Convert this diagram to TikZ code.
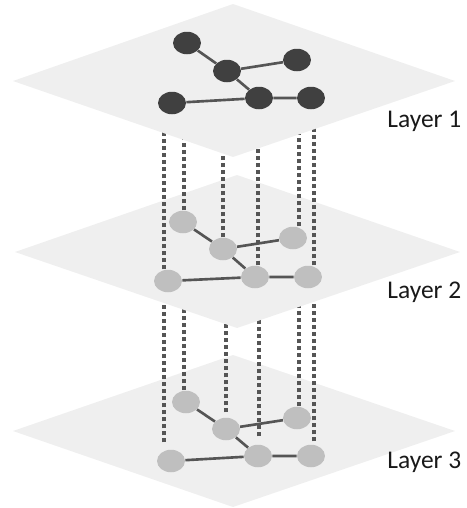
\documentclass[tikz,border=0pt]{standalone}
\usepackage{fontspec}
\setmainfont{Carlito}
\usetikzlibrary{calc, shapes.geometric}
\usepackage{xcolor}
\definecolor{sheetgray}{HTML}{EFEFEF}
\definecolor{darkvertex}{HTML}{404040}
\definecolor{lightvertex}{HTML}{BFBFBF}
\definecolor{wiregray}{HTML}{555555}

\begin{document}
\begin{tikzpicture}[x=0.02cm, y=-0.02cm,
  sheet/.style={fill=sheetgray},
  vertex/.style={ellipse, inner sep=0pt, minimum width=0.56cm, minimum height=0.45cm},
  darkv/.style={vertex, fill=darkvertex},
  lightv/.style={vertex, fill=lightvertex},
  bond/.style={draw=wiregray, line width=1.5pt},
  riser/.style={draw=wiregray, line width=1.8pt, dash pattern=on 2.4pt off 1.6pt},
  layername/.style={font=\fontsize{14.5}{17}\selectfont, text=black!90, anchor=base west, inner sep=0pt}]
\useasboundingbox (0,0) rectangle (467,508);
\coordinate (p1) at (233,81);
\coordinate (p2) at (237,252);

% Layer 3
\fill[sheet] (233,355) -- (455,431) -- (233,507) -- (13,431) -- cycle;
\node[lightv] (a3) at (186,402) {};
\node[lightv] (b3) at (297,418) {};
\node[lightv] (c3) at (226,429) {};
\node[lightv] (d3) at (171,461) {};
\node[lightv] (e3) at (258,456) {};
\node[lightv] (f3) at (311,456) {};
\draw[bond] (a3) -- (c3) -- (b3) (c3) -- (e3) (d3) -- (e3) -- (f3);
\foreach \n/\dx/\gap in {d/-7/7, a/-2/0, c/0/5, e/1/8, b/2/0, f/3/3}
  \draw[riser, shorten <=\gap*0.02cm] ([xshift=\dx*0.02cm]\n3.north) coordinate (t) -- (t |- p2);

% Layer 2
\fill[sheet] (237,175) -- (460,252) -- (237,328) -- (15,252) -- cycle;
\node[lightv] (a2) at (183,222) {};
\node[lightv] (b2) at (293,238) {};
\node[lightv] (c2) at (223,249) {};
\node[lightv] (d2) at (168,281) {};
\node[lightv] (e2) at (255,277) {};
\node[lightv] (f2) at (308,277) {};
\draw[bond] (a2) -- (c2) -- (b2) (c2) -- (e2) (d2) -- (e2) -- (f2);
\foreach \n/\dx in {d/-4, a/1, c/0, e/3, b/6, f/6}
  \draw[riser] ([xshift=\dx*0.02cm]\n2.north) coordinate (t) -- (t |- p1);

% Layer 1
\fill[sheet] (233,4) -- (455,81) -- (233,157) -- (13,81) -- cycle;
\node[darkv] (a1) at (187,43) {};
\node[darkv] (b1) at (297,60) {};
\node[darkv] (c1) at (227,71) {};
\node[darkv] (d1) at (172,103) {};
\node[darkv] (e1) at (259,98) {};
\node[darkv] (f1) at (311,98) {};
\draw[bond] (a1) -- (c1) -- (b1) (c1) -- (e1) (d1) -- (e1) -- (f1);

% labels
\node[layername] (l1) at (387,127) {Layer 1};
\node[layername] (l2) at (387,298) {Layer 2};
\node[layername] (l3) at (387,468) {Layer 3};
\end{tikzpicture}
\end{document}
